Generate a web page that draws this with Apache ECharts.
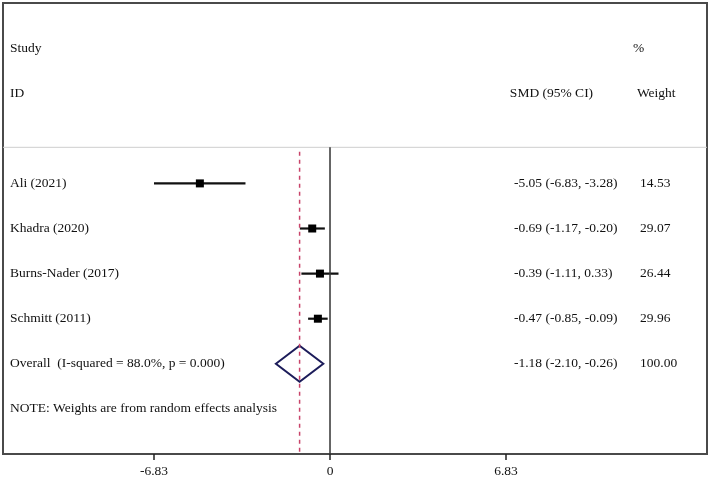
<!DOCTYPE html>
<html>
<head>
<meta charset="utf-8">
<script src="https://cdn.jsdelivr.net/npm/echarts@6/dist/echarts.min.js"></script>
<style>
  html, body { margin: 0; padding: 0; background: #fff; }
  #chart { width: 709px; height: 480px; }
</style>
</head>
<body>
<div id="chart"></div>
<script>
// study level data
const studies = ['Ali (2021)', 'Khadra (2020)', 'Burns-Nader (2017)', 'Schmitt (2011)'];
const smd = [-5.05, -0.69, -0.39, -0.47];
const ciLow = [-6.83, -1.17, -1.11, -0.85];
const ciHigh = [-3.28, -0.20, 0.33, -0.09];
const weights = [14.53, 29.07, 26.44, 29.96];

// pooled estimate
const overallLabel = 'Overall  (I-squared = 88.0%, p = 0.000)';
const overallSmd = -1.18;
const overallLow = -2.10;
const overallHigh = -0.26;
const overallWeight = 100.00;

const noteText = 'NOTE: Weights are from random effects analysis';
const xTicks = [-6.83, 0, 6.83];

// layout: rows on the y axis, columns in x-axis units
const X_MIN = -12.69, X_MAX = 14.63;
const ROW_STUDY = 1, ROW_ID = 2, ROW_SEP = 3.2, ROW_FIRST = 4, ROW_MAX = 10;
const overallRow = ROW_FIRST + studies.length;
const noteRow = overallRow + 1;
const COL_STUDY = -12.42, COL_SMD_HEAD = 6.98, COL_SMD = 7.14, COL_PCT = 11.76, COL_W_HEAD = 11.91, COL_W = 12.03;

const fmt = v => v.toFixed(2);
const ciText = (e, l, h) => `${fmt(e)} (${fmt(l)}, ${fmt(h)})`;

const textItems = [
  { x: COL_STUDY, row: ROW_STUDY, text: 'Study' },
  { x: COL_STUDY, row: ROW_ID, text: 'ID' },
  { x: COL_SMD_HEAD, row: ROW_ID, text: 'SMD (95% CI)' },
  { x: COL_PCT, row: ROW_STUDY, text: '%' },
  { x: COL_W_HEAD, row: ROW_ID, text: 'Weight' },
  { x: COL_STUDY, row: overallRow, text: overallLabel },
  { x: COL_SMD, row: overallRow, text: ciText(overallSmd, overallLow, overallHigh) },
  { x: COL_W, row: overallRow, text: fmt(overallWeight) },
  { x: COL_STUDY, row: noteRow, text: noteText }
];
studies.forEach((s, i) => {
  const row = ROW_FIRST + i;
  textItems.push({ x: COL_STUDY, row: row, text: s });
  textItems.push({ x: COL_SMD, row: row, text: ciText(smd[i], ciLow[i], ciHigh[i]) });
  textItems.push({ x: COL_W, row: row, text: fmt(weights[i]) });
});

const FONT = '"Liberation Serif", "Times New Roman", serif';

const chart = echarts.init(document.getElementById('chart'));

const option = {
  backgroundColor: '#fff',
  animation: false,
  grid: {
    left: 3, top: 3, right: 2, bottom: 26,
    show: true,
    borderColor: '#4a4a4a',
    borderWidth: 2,
    outerBoundsMode: 'none'
  },
  xAxis: {
    type: 'value',
    position: 'bottom',
    min: X_MIN,
    max: X_MAX,
    axisLine: { show: false, onZero: false },
    splitLine: { show: false },
    axisTick: {
      show: true,
      customValues: xTicks,
      length: 6,
      lineStyle: { color: '#222', width: 1.5 }
    },
    axisLabel: {
      customValues: xTicks,
      formatter: v => (v === 0 ? '0' : v.toFixed(2)),
      fontFamily: FONT,
      fontSize: 13.5,
      color: '#111',
      margin: 10
    }
  },
  yAxis: {
    type: 'value',
    min: 0,
    max: ROW_MAX,
    inverse: true,
    show: false
  },
  series: [
    {
      // header separator
      type: 'line',
      data: [[X_MIN, ROW_SEP], [X_MAX, ROW_SEP]],
      symbol: 'none',
      lineStyle: { color: '#cfcfcf', width: 1 },
      silent: true
    },
    {
      // line of no effect
      type: 'line',
      data: [[0, ROW_SEP], [0, ROW_MAX]],
      symbol: 'none',
      lineStyle: { color: '#333', width: 1.5 },
      silent: true
    },
    {
      // pooled estimate reference
      type: 'line',
      data: [[overallSmd, ROW_SEP + 0.1], [overallSmd, ROW_MAX]],
      symbol: 'none',
      lineStyle: { color: '#c8446a', width: 1.5, type: [4, 4] },
      silent: true
    },
    {
      type: 'custom',
      name: 'studies',
      encode: { x: [0, 2, 3], y: 1 },
      data: studies.map((s, i) => [smd[i], ROW_FIRST + i, ciLow[i], ciHigh[i], weights[i]]),
      renderItem: (params, api) => {
        const p = api.coord([api.value(0), api.value(1)]);
        const l = api.coord([api.value(2), api.value(1)]);
        const h = api.coord([api.value(3), api.value(1)]);
        const size = 8;
        return {
          type: 'group',
          children: [
            {
              type: 'line',
              shape: { x1: l[0], y1: l[1], x2: h[0], y2: h[1] },
              style: { stroke: '#111', lineWidth: 2.2 }
            },
            {
              type: 'rect',
              shape: { x: p[0] - size / 2, y: p[1] - size / 2, width: size, height: size },
              style: { fill: '#000' }
            }
          ]
        };
      }
    },
    {
      type: 'custom',
      name: 'overall',
      encode: { x: [0, 2, 3], y: 1 },
      data: [[overallSmd, overallRow, overallLow, overallHigh]],
      renderItem: (params, api) => {
        const row = api.value(1);
        const e = api.value(0);
        return {
          type: 'polygon',
          shape: {
            points: [
              api.coord([api.value(2), row]),
              api.coord([e, row - 0.4]),
              api.coord([api.value(3), row]),
              api.coord([e, row + 0.4])
            ]
          },
          style: { fill: '#fff', stroke: '#1c1c5a', lineWidth: 2 }
        };
      }
    },
    {
      type: 'custom',
      name: 'labels',
      encode: { x: 0, y: 1 },
      data: textItems.map(t => [t.x, t.row]),
      renderItem: (params, api) => {
        const t = textItems[params.dataIndex];
        const p = api.coord([api.value(0), api.value(1)]);
        return {
          type: 'text',
          x: p[0],
          y: p[1],
          style: {
            text: t.text,
            fill: '#111',
            font: '13.5px ' + FONT,
            textAlign: 'left',
            textVerticalAlign: 'middle'
          }
        };
      }
    }
  ]
};

chart.setOption(option);
window.addEventListener('resize', () => chart.resize());
</script>
</body>
</html>
